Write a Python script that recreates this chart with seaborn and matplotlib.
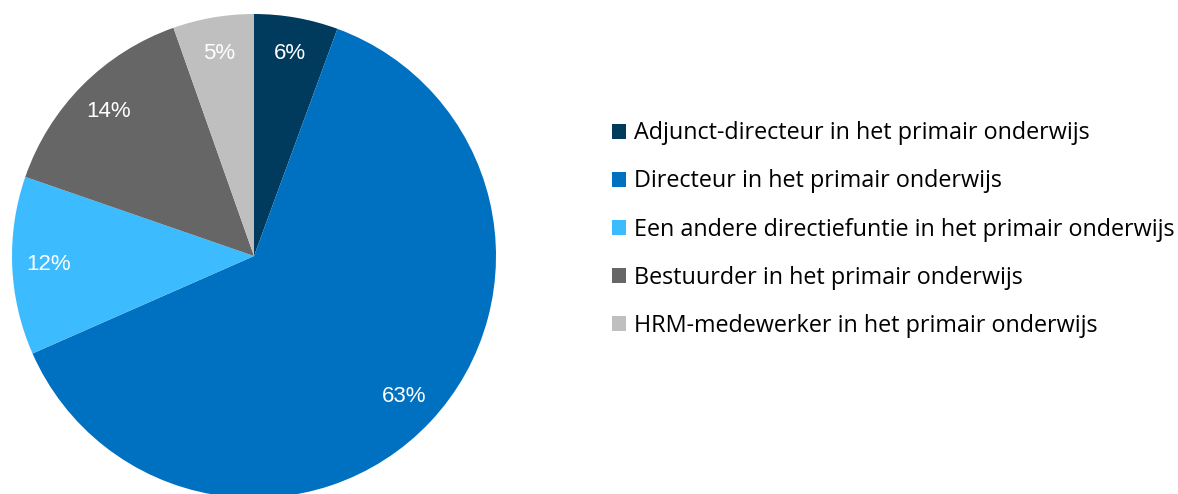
# importar librerías
import matplotlib
matplotlib.use("Agg")
import seaborn as sns
import matplotlib.pyplot as plt

# datos
functies = [
    "Adjunct-directeur in het primair onderwijs",
    "Directeur in het primair onderwijs",
    "Een andere directiefuntie in het primair onderwijs",
    "Bestuurder in het primair onderwijs",
    "HRM-medewerker in het primair onderwijs",
]
percentages = [5.6, 62.8, 11.9, 14.3, 5.4]
kleuren = ["#003A5C", "#0070C0", "#3DBBFF", "#666666", "#BFBFBF"]

# estilo
sns.set_style("white")
plt.rcParams["font.family"] = ["Liberation Sans", "DejaVu Sans"]

fig = plt.figure(figsize=(11.78, 4.94), dpi=100)
ax = fig.add_axes([12 / 1178, -4 / 494, 484 / 1178, 484 / 494])

wedges, texts, autotexts = ax.pie(
    percentages,
    colors=kleuren,
    startangle=90,
    counterclock=False,
    autopct=lambda p: f"{p:.0f}%",
    pctdistance=0.85,
    radius=1,
    wedgeprops={"linewidth": 0},
    textprops={"color": "white", "fontsize": 16},
)
ax.set_xlim(-1, 1)
ax.set_ylim(-1, 1)
ax.set_aspect("equal")

# leyenda
leg = fig.legend(
    wedges, functies,
    loc="center left",
    bbox_to_anchor=(591 / 1178, 1 - 229.5 / 494),
    frameon=False,
    prop={"family": "Open Sans", "size": 16.8},
    handlelength=0.6, handleheight=0.6, handletextpad=0.33,
    labelspacing=1.03,
)
for t in leg.get_texts():
    t.set_color("black")

fig.savefig("out.png", dpi=100)
